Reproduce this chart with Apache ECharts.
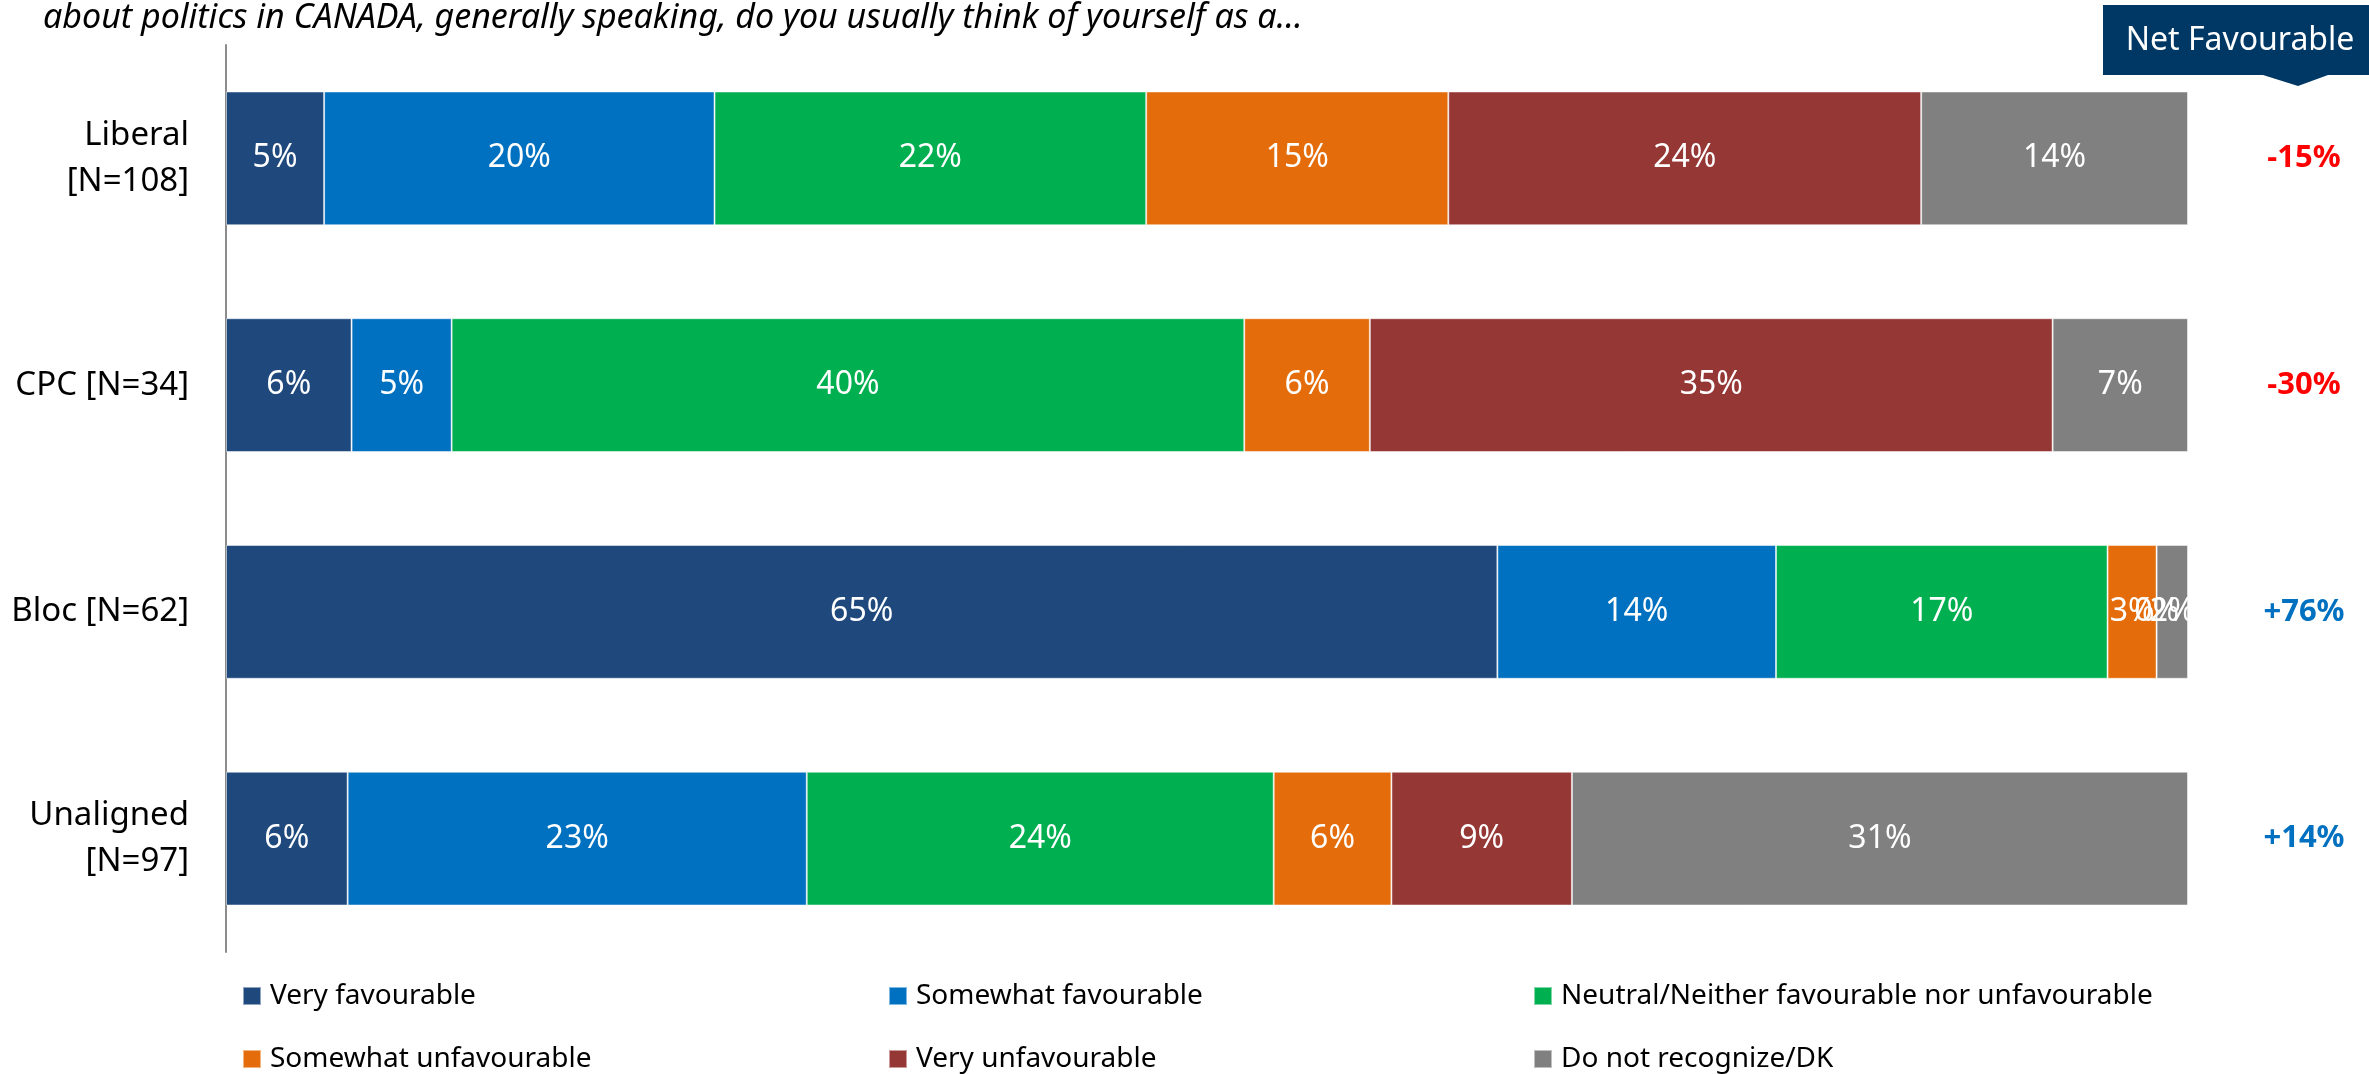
<!DOCTYPE html>
<html>
<head>
<meta charset="utf-8">
<script src="https://cdn.jsdelivr.net/npm/echarts@6/dist/echarts.min.js"></script>
<style>
html,body{margin:0;padding:0;background:#fff;}
#chart{width:2369px;height:1074px;}
</style>
</head>
<body>
<div id="chart"></div>
<script>
const categories = ['Liberal\n[N=108]', 'CPC [N=34]', 'Bloc [N=62]', 'Unaligned\n[N=97]'];
const seriesNames = ['Very favourable', 'Somewhat favourable', 'Neutral/Neither favourable nor unfavourable', 'Somewhat unfavourable', 'Very unfavourable', 'Do not recognize/DK'];
const veryFav      = [5.0, 6.4, 64.8, 6.2];
const somewhatFav  = [19.9, 5.1, 14.2, 23.4];
const neutral      = [22.0, 40.4, 16.9, 23.8];
const somewhatUnf  = [15.4, 6.4, 2.5, 6.0];
const veryUnf      = [24.1, 34.8, 0.0, 9.2];
const dontKnow     = [13.6, 6.9, 1.6, 31.4];
const netFavourable = [-15, -30, 76, 14];
const colors = ['#1F497D', '#0070C0', '#00B050', '#E46C0A', '#953735', '#808080'];

const FONT = '"Noto Sans", "Open Sans", sans-serif';
const values = [veryFav, somewhatFav, neutral, somewhatUnf, veryUnf, dontKnow];

const series = seriesNames.map((name, i) => ({
  name: name,
  type: 'bar',
  stack: 'total',
  barWidth: '59%',
  data: values[i],
  itemStyle: { color: colors[i], borderColor: 'rgba(255,255,255,0.5)', borderWidth: 1 },
  label: {
    show: true,
    position: 'inside',
    color: '#fff',
    fontFamily: FONT,
    fontSize: 32,
    formatter: p => Math.round(p.value) + '%'
  }
}));

const legendPos = [
  [242, 982], [888, 982], [1533, 982],
  [242, 1045], [888, 1045], [1533, 1045]
];
const legends = seriesNames.map((name, i) => ({
  data: [name],
  left: legendPos[i][0],
  top: legendPos[i][1],
  padding: 0,
  itemWidth: 18,
  itemHeight: 18,
  icon: 'rect',
  selectedMode: false,
  textStyle: { fontFamily: FONT, fontSize: 28, color: '#000', lineHeight: 28, padding: [0, 0, 0, 4] }
}));

const chart = echarts.init(document.getElementById('chart'));
chart.setOption({
  animation: false,
  backgroundColor: '#fff',
  title: {
    text: 'about politics in CANADA, generally speaking, do you usually think of yourself as a…',
    left: 43,
    top: 1,
    padding: 0,
    textStyle: { fontFamily: FONT, fontSize: 34, fontStyle: 'italic', fontWeight: 'normal', color: '#000' }
  },
  legend: legends,
  grid: { left: 226, right: 181, top: 45, bottom: 122 },
  xAxis: { type: 'value', min: 0, max: 100, show: false },
  yAxis: [
    {
      type: 'category',
      data: categories,
      inverse: true,
      axisLine: { show: true, lineStyle: { color: '#8c8c8c', width: 2 } },
      axisTick: { show: false },
      axisLabel: { fontFamily: FONT, fontSize: 33, color: '#000', lineHeight: 46, align: 'right', margin: 37 }
    },
    {
      type: 'category',
      data: netFavourable,
      inverse: true,
      position: 'right',
      axisLine: { show: false },
      axisTick: { show: false },
      axisLabel: {
        align: 'center',
        margin: 116,
        formatter: v => Number(v) < 0 ? '{neg|' + v + '%}' : '{pos|+' + v + '%}',
        rich: {
          neg: { color: '#FF0000', fontFamily: FONT, fontSize: 31, fontWeight: 'bold' },
          pos: { color: '#0070C0', fontFamily: FONT, fontSize: 31, fontWeight: 'bold' }
        }
      }
    }
  ],
  graphic: [
    {
      type: 'polygon',
      shape: { points: [[2103, 5], [2369, 5], [2369, 75], [2328, 75], [2298, 86], [2263, 75], [2103, 75]] },
      style: { fill: '#003865' }
    },
    {
      type: 'text',
      x: 2240, y: 41,
      style: { text: 'Net Favourable', fill: '#fff', fontFamily: FONT, fontSize: 32, align: 'center', verticalAlign: 'middle' }
    }
  ],
  series: series
});
</script>
</body>
</html>
